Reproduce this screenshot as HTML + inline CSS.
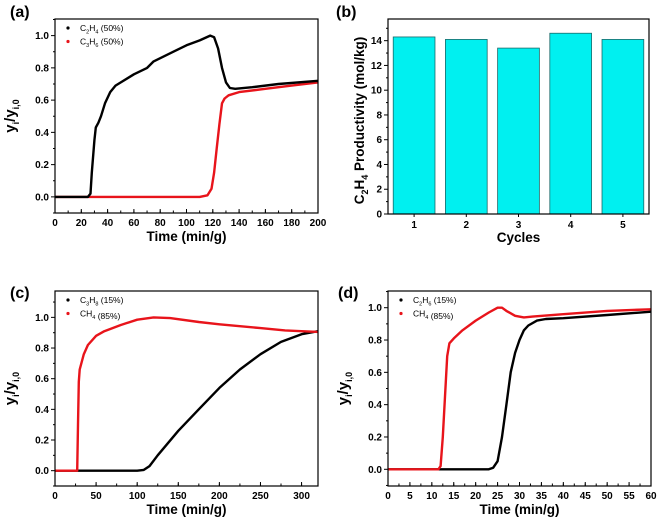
<!DOCTYPE html>
<html><head><meta charset="utf-8"><style>
body{margin:0;background:#fff;}
svg{display:block;font-family:"Liberation Sans",Arial,sans-serif;font-weight:bold;}
</style></head><body>
<svg id="fig" width="666" height="524" viewBox="0 0 666 524"></svg>
<script>
// ---- data ----
const aTime1=[0,25,27,28,30,31,33,35,38,42,46,50,60,70,75,80,90,100,110,118,121,124,127,130,133,137,150,170,200];
const aC2H4=[0,0,0.02,0.15,0.35,0.43,0.46,0.5,0.58,0.65,0.69,0.71,0.76,0.8,0.84,0.86,0.9,0.94,0.97,1.0,0.99,0.92,0.8,0.71,0.675,0.67,0.68,0.7,0.72];
const aTime2=[0,110,116,119,121,123,125,127,129,132,140,160,180,200];
const aC3H6=[0,0,0.01,0.05,0.15,0.3,0.45,0.58,0.61,0.63,0.65,0.67,0.69,0.71];
const bCycles=["1","2","3","4","5"];
const bProd=[14.3,14.1,13.4,14.6,14.1];
const cTime1=[0,100,108,115,125,150,175,200,225,250,275,300,320];
const cC3H8=[0,0,0.005,0.03,0.1,0.26,0.4,0.54,0.66,0.76,0.84,0.89,0.91];
const cTime2=[0,27,28,29,30,35,40,50,60,80,100,120,140,175,200,250,280,320];
const cCH4=[0,0,0.3,0.58,0.66,0.76,0.82,0.88,0.91,0.95,0.985,1.0,0.995,0.97,0.955,0.93,0.915,0.905];
const dTime1=[0,23,24,25,26,27,28,29,30,31,32,34,36,40,50,60];
const dC2H6=[0,0,0.01,0.05,0.2,0.4,0.6,0.72,0.8,0.86,0.89,0.92,0.93,0.935,0.955,0.975];
const dTime2=[0,11.5,12,12.5,13,13.5,14,15,17,20,23,25,26,27,29,31,33,40,50,60];
const dCH4=[0,0,0.02,0.2,0.45,0.7,0.78,0.81,0.86,0.92,0.97,1.0,1.0,0.98,0.95,0.94,0.945,0.96,0.98,0.99];
const yTicksFrac=["0.0","0.2","0.4","0.6","0.8","1.0"];
const aXTicks=[0,20,40,60,80,100,120,140,160,180,200];
const bYTicks=[0,2,4,6,8,10,12,14];
const cXTicks=[0,50,100,150,200,250,300];
const dXTicks=[0,5,10,15,20,25,30,35,40,45,50,55,60];

const NS="http://www.w3.org/2000/svg";
const svg=document.getElementById('fig');
function el(tag,attrs,parent,txt){const e=document.createElementNS(NS,tag);for(const k in attrs)e.setAttribute(k,attrs[k]);if(txt!==undefined)e.textContent=txt;(parent||svg).appendChild(e);return e;}

function panel(o){
  const g=el('g',{});
  
  
  const sx=v=>o.L+(v-o.x0)/(o.x1-o.x0)*(o.R-o.L);
  const sy=v=>o.B-(v-o.y0)/(o.y1-o.y0)*(o.B-o.T);
  o.sx=sx;o.sy=sy;o.g=g;
  return o;
}
function frame(o){
  const r=el('rect',{x:o.L,y:o.T,width:o.R-o.L,height:o.B-o.T,fill:'none',stroke:'#000','stroke-width':1.2},o.g);
  
}
function yAxisFrac(o){
  const ga=el('g',{},o.g);
  for(let i=-1;i<=11;i++){const v=i/10,y=o.sy(v);if(y<o.T-0.5)continue;
    el('line',{x1:o.L-(i%2==0?4:2),x2:o.L,y1:y,y2:y,stroke:'#000','stroke-width':1},ga);}
  yTicksFrac.forEach(t=>{const y=o.sy(parseFloat(t));const tx=el('text',{x:o.L-6,y:y+3.5,'font-size':10,'text-anchor':'end'},ga,t);
    });
  const cx=o.L-40,cy=(o.T+o.B)/2;
  const t=el('text',{x:0,y:0,'font-size':15,'text-anchor':'middle',transform:`translate(${cx},${cy}) rotate(-90)`},ga);
  
  el('tspan',{},t,'y');el('tspan',{'font-size':9,dy:4},t,'i');el('tspan',{dy:-4},t,'/y');el('tspan',{'font-size':9,dy:4},t,'i,0');
}
function xAxis(o,ticks,minorStep){
  const ga=el('g',{},o.g);
  for(let v=o.x0;v<=o.x1+1e-9;v+=minorStep){const x=o.sx(v);el('line',{x1:x,x2:x,y1:o.B,y2:o.B-2.5,stroke:'#000','stroke-width':1},ga);}
  ticks.forEach(v=>{const x=o.sx(v);el('line',{x1:x,x2:x,y1:o.B,y2:o.B-4,stroke:'#000','stroke-width':1},ga);
    const tx=el('text',{x:x,y:o.B+13,'font-size':10,'text-anchor':'middle'},ga,String(v));
    });
  const t=el('text',{x:(o.L+o.R)/2,y:o.B+28,'font-size':13.5,'text-anchor':'middle'},ga,o.xTitle);
  
}
function series(o,xs,ys,color,name){
  let d='';xs.forEach((x,i)=>{d+=(i?'L':'M')+o.sx(x).toFixed(1)+','+o.sy(ys[i]).toFixed(1);});
  const p=el('path',{d:d,fill:'none',stroke:color,'stroke-width':2.4,'stroke-linejoin':'round'},o.g);
  
}
function legend(o,items){
  const gl=el('g',{},o.g);
  items.forEach((it,i)=>{const y=o.T+9+i*13.5;
    const ge=el('g',{},gl);
    el('circle',{cx:o.L+13,cy:y,r:1.6,fill:it.c},ge);
    const t=el('text',{x:o.L+25,y:y+3,'font-size':8.5,'font-weight':'normal'},ge);
    el('tspan',{},t,it.a);el('tspan',{'font-size':5.5,dy:2.5},t,it.s1);el('tspan',{dy:-2.5},t,it.b);
    if(it.s2){el('tspan',{'font-size':5.5,dy:2.5},t,it.s2);el('tspan',{dy:-2.5},t,it.tail);}else{el('tspan',{},t,it.tail);}
  });
}
function plabel(x,y,s){const t=el('text',{x:x,y:y,'font-size':16},svg,s);}

// (a)
const A=panel({name:'panel-a',L:55,R:318,T:19,B:213,x0:0,x1:200,y0:-0.1,y1:1.103,xTitle:'Time (min/g)'});
series(A,aTime2,aC3H6,'#e8141b','c3h6-series');
series(A,aTime1,aC2H4,'#000','c2h4-series');
frame(A);yAxisFrac(A);xAxis(A,aXTicks,10);
legend(A,[{c:'#000',a:'C',s1:'2',b:'H',s2:'4',tail:' (50%)'},{c:'#e8141b',a:'C',s1:'3',b:'H',s2:'6',tail:' (50%)'}]);
plabel(10,17,'(a)');

// (b)
const Bp=panel({name:'panel-b',L:388,R:649,T:19,B:214,x0:0.5,x1:5.5,y0:0,y1:15.75,xTitle:'Cycles'});
bCycles.forEach((c,i)=>{const xc=Bp.sx(i+1),w=Bp.sx(1.4)-Bp.sx(0.6);
  const r=el('rect',{x:xc-w/2,y:Bp.sy(bProd[i]),width:w,height:Bp.sy(0)-Bp.sy(bProd[i]),fill:'#00f0f0',stroke:'#1a6a6a','stroke-width':0.8},Bp.g);
  });
frame(Bp);
(function(){const o=Bp;const ga=el('g',{},o.g);
  for(let v=0;v<=15;v++){const y=o.sy(v);el('line',{x1:o.L-(v%2==0?4:2),x2:o.L,y1:y,y2:y,stroke:'#000','stroke-width':1},ga);}
  bYTicks.forEach(v=>{const tx=el('text',{x:o.L-6,y:o.sy(v)+3.5,'font-size':10,'text-anchor':'end'},ga,String(v));});
  const t=el('text',{x:0,y:0,'font-size':13.5,'text-anchor':'middle',transform:`translate(${o.L-24},${(o.T+o.B)/2+4}) rotate(-90)`},ga);
  
  el('tspan',{},t,'C');el('tspan',{'font-size':9,dy:4},t,'2');el('tspan',{dy:-4},t,'H');el('tspan',{'font-size':9,dy:4},t,'4');el('tspan',{dy:-4},t,' Productivity (mol/kg)');
  const gx=el('g',{},o.g);
  bCycles.forEach((c,i)=>{const x=o.sx(i+1);el('line',{x1:x,x2:x,y1:o.B,y2:o.B+3,stroke:'#000'},gx);
    const tx=el('text',{x:x,y:o.B+14,'font-size':10,'text-anchor':'middle'},gx,c);});
  const xt=el('text',{x:(o.L+o.R)/2,y:o.B+28,'font-size':13.5,'text-anchor':'middle'},gx,'Cycles');
})();
plabel(336,17,'(b)');

// (c)
const C=panel({name:'panel-c',L:55,R:318,T:291,B:486,x0:0,x1:320,y0:-0.1,y1:1.14,xTitle:'Time (min/g)'});
C.y1=-0.1+(486-291)/((471-317.7)/1.0);
series(C,cTime1,cC3H8,'#000','c3h8-series');
series(C,cTime2,cCH4,'#e8141b','ch4-series');
frame(C);yAxisFrac(C);xAxis(C,cXTicks,25);
legend(C,[{c:'#000',a:'C',s1:'3',b:'H',s2:'8',tail:' (15%)'},{c:'#e8141b',a:'CH',s1:'4',b:'',tail:'  (85%)'}]);
plabel(10,298,'(c)');

// (d)
const D=panel({name:'panel-d',L:388,R:651,T:291,B:486,x0:0,x1:60,y0:-0.1,y1:1.1,xTitle:'Time (min/g)'});
D.y0=-(486-469.3)/(469.3-307.7);D.y1=D.y0+(486-291)/(469.3-307.7);
series(D,dTime1,dC2H6,'#000','c2h6-series');
series(D,dTime2,dCH4,'#e8141b','ch4-series');
frame(D);yAxisFrac(D);xAxis(D,dXTicks,2.5);
legend(D,[{c:'#000',a:'C',s1:'2',b:'H',s2:'6',tail:' (15%)'},{c:'#e8141b',a:'CH',s1:'4',b:'',tail:'  (85%)'}]);
plabel(338,298,'(d)');
</script>
</body></html>
